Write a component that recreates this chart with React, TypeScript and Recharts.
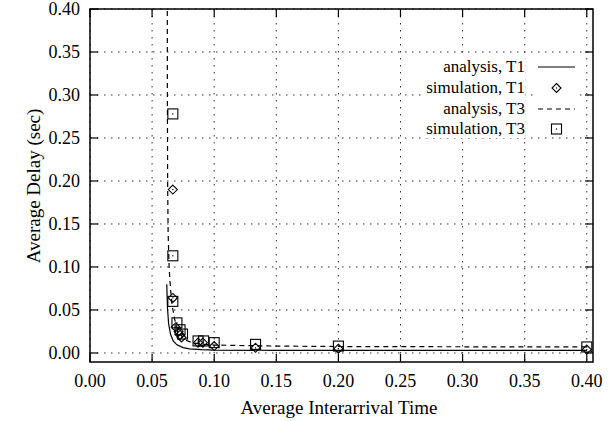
import { ComposedChart, Line, Scatter, XAxis, YAxis, CartesianGrid, ReferenceArea } from 'recharts';

// average interarrival time (x) vs average delay in seconds (y)
const analysisT1 = [
  { x: 0.0618, y: 0.08 },
  { x: 0.0624, y: 0.052 },
  { x: 0.0633, y: 0.034 },
  { x: 0.0648, y: 0.022 },
  { x: 0.067, y: 0.014 },
  { x: 0.07, y: 0.0095 },
  { x: 0.075, y: 0.0062 },
  { x: 0.08, y: 0.0048 },
  { x: 0.09, y: 0.0038 },
  { x: 0.1, y: 0.0034 },
  { x: 0.15, y: 0.003 },
  { x: 0.2, y: 0.003 },
  { x: 0.3, y: 0.003 },
  { x: 0.4, y: 0.003 },
];

const analysisT3 = [
  { x: 0.0622, y: 0.45 },
  { x: 0.0623, y: 0.3 },
  { x: 0.0625, y: 0.2 },
  { x: 0.0629, y: 0.14 },
  { x: 0.0637, y: 0.1 },
  { x: 0.0648, y: 0.075 },
  { x: 0.066, y: 0.057 },
  { x: 0.068, y: 0.04 },
  { x: 0.07, y: 0.03 },
  { x: 0.073, y: 0.021 },
  { x: 0.077, y: 0.015 },
  { x: 0.082, y: 0.012 },
  { x: 0.09, y: 0.0102 },
  { x: 0.1, y: 0.0092 },
  { x: 0.15, y: 0.008 },
  { x: 0.2, y: 0.0075 },
  { x: 0.3, y: 0.0072 },
  { x: 0.4, y: 0.007 },
];

const simulationT1 = [
  { x: 0.0667, y: 0.19 },
  { x: 0.0667, y: 0.064 },
  { x: 0.069, y: 0.03 },
  { x: 0.0714, y: 0.025 },
  { x: 0.0725, y: 0.021 },
  { x: 0.0737, y: 0.018 },
  { x: 0.087, y: 0.012 },
  { x: 0.0909, y: 0.012 },
  { x: 0.1, y: 0.008 },
  { x: 0.1333, y: 0.006 },
  { x: 0.2, y: 0.005 },
  { x: 0.4, y: 0.004 },
];

const simulationT3 = [
  { x: 0.0667, y: 0.278 },
  { x: 0.0667, y: 0.113 },
  { x: 0.0667, y: 0.06 },
  { x: 0.07, y: 0.035 },
  { x: 0.0725, y: 0.027 },
  { x: 0.0745, y: 0.022 },
  { x: 0.087, y: 0.014 },
  { x: 0.0915, y: 0.014 },
  { x: 0.1, y: 0.012 },
  { x: 0.1333, y: 0.01 },
  { x: 0.2, y: 0.008 },
  { x: 0.4, y: 0.007 },
];

const xTicks = [0, 0.05, 0.1, 0.15, 0.2, 0.25, 0.3, 0.35, 0.4];
const yTicks = [0, 0.05, 0.1, 0.15, 0.2, 0.25, 0.3, 0.35, 0.4];

const seriesNames = ['analysis, T1', 'simulation, T1', 'analysis, T3', 'simulation, T3'];

const FONT = "'Liberation Serif', 'DejaVu Serif', serif";
const PLOT_TOP = 9;
const PLOT_RIGHT = 593;

const XTick = ({ x, y, payload }: any) => (
  <g>
    <line x1={x} x2={x} y1={y} y2={y - 8} stroke="#000" strokeWidth={1.2} />
    <line x1={x} x2={x} y1={PLOT_TOP} y2={PLOT_TOP + 8} stroke="#000" strokeWidth={1.2} />
    <text x={x} y={y + 25} textAnchor="middle" style={{ fontFamily: FONT, fontSize: 18 }} fill="#000">
      {Number(payload.value).toFixed(2)}
    </text>
  </g>
);

const YTick = ({ x, y, payload }: any) => (
  <g>
    <line x1={x} x2={x + 8} y1={y} y2={y} stroke="#000" strokeWidth={1.2} />
    <line x1={PLOT_RIGHT - 8} x2={PLOT_RIGHT} y1={y} y2={y} stroke="#000" strokeWidth={1.2} />
    <text x={x - 10} y={y + 6} textAnchor="end" style={{ fontFamily: FONT, fontSize: 18 }} fill="#000">
      {Number(payload.value).toFixed(2)}
    </text>
  </g>
);

const XTitle = () => (
  <text x={339} y={414} textAnchor="middle" style={{ fontFamily: FONT, fontSize: 19 }} fill="#000">
    Average Interarrival Time
  </text>
);

const YTitle = () => (
  <text transform="translate(40,186) rotate(-90)" textAnchor="middle" style={{ fontFamily: FONT, fontSize: 19 }} fill="#000">
    Average Delay (sec)
  </text>
);

const Diamond = ({ cx, cy }: any) => {
  if (cx == null || cy == null) return <g />;
  const r = 4.5;
  return (
    <g>
      <polygon
        points={`${cx},${cy - r} ${cx + r},${cy} ${cx},${cy + r} ${cx - r},${cy}`}
        fill="none"
        stroke="#000"
        strokeWidth={1.1}
      />
      <rect x={cx - 0.6} y={cy - 0.6} width={1.2} height={1.2} fill="#000" />
    </g>
  );
};

const Square = ({ cx, cy }: any) => {
  if (cx == null || cy == null) return <g />;
  const r = 5;
  return (
    <g>
      <rect x={cx - r} y={cy - r} width={2 * r} height={2 * r} fill="none" stroke="#000" strokeWidth={1.1} />
      <rect x={cx - 0.6} y={cy - 0.6} width={1.2} height={1.2} fill="#000" />
    </g>
  );
};

const LegendBox = () => {
  const samples = [
    <line x1={0} x2={37} y1={8} y2={8} stroke="#000" strokeWidth={1.2} />,
    <Diamond cx={18.5} cy={8} />,
    <line x1={0} x2={37} y1={8} y2={8} stroke="#000" strokeWidth={1.2} strokeDasharray="5 4" />,
    <Square cx={18.5} cy={8} />,
  ];
  return (
    <div style={{ position: 'absolute', top: 57, left: 300, width: 293, fontFamily: FONT, fontSize: 17, color: '#000' }}>
      {seriesNames.map((name, i) => (
        <div key={name} style={{ display: 'flex', alignItems: 'center', height: 20.7, justifyContent: 'flex-end' }}>
          <span style={{ background: '#fff', paddingLeft: 2, lineHeight: '18px' }}>{name}</span>
          <svg width={37} height={16} style={{ marginLeft: 13, marginRight: 18, background: '#fff' }}>
            {samples[i]}
          </svg>
        </div>
      ))}
    </div>
  );
};

export default function App() {
  return (
    <div style={{ position: 'fixed', left: 0, top: 0, width: 614, height: 421, background: '#fff' }}>
      <ComposedChart width={614} height={421} margin={{ top: PLOT_TOP, right: 614 - PLOT_RIGHT, bottom: 0, left: 0 }}>
        <CartesianGrid
          stroke="#333"
          strokeDasharray="1.5 5.5"
          horizontalValues={yTicks}
          verticalValues={xTicks}
        />
        <XAxis
          type="number"
          dataKey="x"
          domain={[0, 0.405]}
          ticks={xTicks}
          allowDataOverflow
          height={59}
          tickSize={0}
          tickMargin={0}
          tickLine={false}
          axisLine={false}
          tick={<XTick />}
          label={<XTitle />}
        />
        <YAxis
          type="number"
          dataKey="y"
          domain={[-0.0105, 0.4]}
          ticks={yTicks}
          allowDataOverflow
          width={90}
          tickSize={0}
          tickMargin={0}
          tickLine={false}
          axisLine={false}
          tick={<YTick />}
          label={<YTitle />}
        />
        <ReferenceArea x1={0} x2={0.405} y1={-0.0105} y2={0.4} fill="none" stroke="#000" strokeWidth={1.5} ifOverflow="visible" />
        <Line
          name={seriesNames[0]}
          data={analysisT1}
          dataKey="y"
          type="linear"
          stroke="#000"
          strokeWidth={1.2}
          dot={false}
          isAnimationActive={false}
        />
        <Line
          name={seriesNames[2]}
          data={analysisT3}
          dataKey="y"
          type="linear"
          stroke="#000"
          strokeWidth={1.2}
          strokeDasharray="5 4"
          dot={false}
          isAnimationActive={false}
        />
        <Scatter name={seriesNames[1]} data={simulationT1} dataKey="y" shape={<Diamond />} isAnimationActive={false} />
        <Scatter name={seriesNames[3]} data={simulationT3} dataKey="y" shape={<Square />} isAnimationActive={false} />
      </ComposedChart>
      <LegendBox />
    </div>
  );
}
